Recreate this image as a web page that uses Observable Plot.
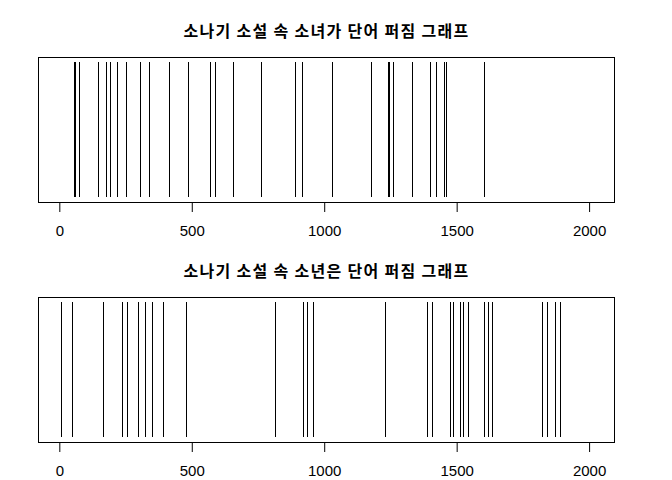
<!DOCTYPE html>
<html>
<head>
<meta charset="utf-8">
<script src="https://cdn.jsdelivr.net/npm/d3@7"></script>
<script src="https://cdn.jsdelivr.net/npm/@observablehq/plot@0.6"></script>
<style>
  html, body { margin: 0; padding: 0; background: #fff; }
  #chart svg { display: block; }
  .ptitle text { letter-spacing: 1.3px; }
</style>
</head>
<body>
<div id="chart"></div>
<script>
// Titles
const titleGirl = "소나기 소설 속 소녀가 단어 퍼짐 그래프";
const titleBoy = "소나기 소설 속 소년은 단어 퍼짐 그래프";

// Word offsets (positions in the text) where the word appears
const girlPositions = [54, 61, 76, 145, 175, 193, 217, 251, 303, 340, 415, 487, 567, 589, 657, 762, 891, 917,
  1030, 1178, 1239, 1244, 1261, 1330, 1400, 1423, 1451, 1461, 1604];
const boyPositions = [5, 49, 166, 238, 257, 298, 325, 351, 393, 479, 813, 921, 936, 959,
  1230, 1389, 1408, 1473, 1488, 1513, 1525, 1544, 1604, 1619, 1632, 1823, 1842, 1872, 1891];

// Axis
const xDomain = [-80.5, 2094];
const xTicks = [0, 500, 1000, 1500, 2000];

function panel(title, positions) {
  const svg = Plot.plot({
    width: 672,
    height: 240,
    marginLeft: 38,
    marginRight: 58,
    marginTop: 57,
    marginBottom: 38,
    style: { fontFamily: "'Liberation Sans', Arial, sans-serif", fontSize: "15px", color: "#000", background: "#fff" },
    x: { domain: xDomain, ticks: xTicks, tickSize: 10, tickPadding: 13, label: null, tickFormat: d => String(d) },
    marks: [
      Plot.ruleX(positions, { x: d => d, stroke: "#000", strokeWidth: 1, insetTop: 5, insetBottom: 5, shapeRendering: "crispEdges" }),
      Plot.frame({ stroke: "#000", strokeWidth: 1, shapeRendering: "crispEdges" }),
      Plot.text([title], {
        text: d => d,
        frameAnchor: "top",
        lineAnchor: "middle",
        dy: -26,
        fontSize: 16,
        fontWeight: "bold",
        fontFamily: "'Noto Sans CJK KR', sans-serif",
        fill: "#000"
      })
    ]
  });
  // mark the title group for letter spacing
  const texts = svg.querySelectorAll("text");
  texts.forEach(t => { if (t.textContent === title) t.parentNode.classList.add("ptitle"); });
  return svg;
}

const root = document.getElementById("chart");
root.appendChild(panel(titleGirl, girlPositions));
root.appendChild(panel(titleBoy, boyPositions));
</script>
</body>
</html>
